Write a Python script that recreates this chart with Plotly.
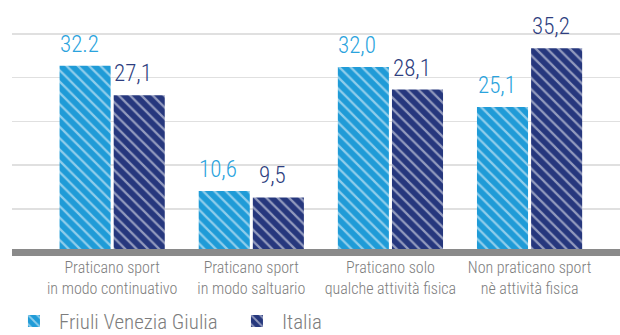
import plotly.graph_objects as go

categories = [
    "Praticano sport<br>in modo continuativo",
    "Praticano sport<br>in modo saltuario",
    "Praticano solo<br>qualche attività fisica",
    "Non praticano sport<br>nè attività fisica",
]
fvg_values = [32.2, 10.6, 32.0, 25.1]
fvg_labels = ["32.2", "10,6", "32,0", "25,1"]
ita_values = [27.1, 9.5, 28.1, 35.2]
ita_labels = ["27,1", "9,5", "28,1", "35,2"]
series_names = ["Friuli Venezia Giulia", "Italia"]

LIGHT = "#1f9bd7"
DARK = "#26377d"
LIGHT_TXT = "#2aa3dd"
DARK_TXT = "#2e3e80"
GRAY_TXT = "#7d7d7d"
FONT = "Roboto Condensed, Roboto, sans-serif"
WT = 300

W = 0.367
OFF_A = -0.378
OFF_B = 0.011

fig = go.Figure()
for name, vals, col, off in [
    (series_names[0], fvg_values, LIGHT, OFF_A),
    (series_names[1], ita_values, DARK, OFF_B),
]:
    fig.add_trace(go.Bar(
        name=name,
        x=list(range(len(categories))),
        y=vals,
        width=W,
        offset=off,
        marker=dict(
            color=col,
            line=dict(width=0),
            pattern=dict(shape="\\", bgcolor=col, fgcolor="white",
                         size=8, solidity=0.28, fillmode="overlay"),
        ),
        hoverinfo="skip",
    ))

annotations = []
for vals, labels, off, col in [
    (fvg_values, fvg_labels, OFF_A, LIGHT_TXT),
    (ita_values, ita_labels, OFF_B, DARK_TXT),
]:
    for i, (v, t) in enumerate(zip(vals, labels)):
        annotations.append(dict(x=i + off + W / 2, y=v, text=t, showarrow=False,
                                xref="x", yref="y", yanchor="bottom",
                                yshift=6, xshift=-6,
                                font=dict(family=FONT, size=23, weight=WT, color=col)))

fig.update_layout(
    width=620, height=335,
    margin=dict(l=12, r=0, t=0, b=79, autoexpand=False),
    paper_bgcolor="white", plot_bgcolor="white",
    barmode="overlay",
    showlegend=True,
    legend=dict(orientation="h", x=-0.005, xanchor="left", y=-0.175, yanchor="top",
                font=dict(family=FONT, size=21, weight=WT, color=GRAY_TXT),
                itemwidth=40, entrywidth=168, entrywidthmode="pixels",
                traceorder="normal"),
    annotations=annotations,
    shapes=[dict(type="line", xref="paper", x0=0, x1=1, yref="y", y0=0, y1=0,
                 line=dict(color="#8a8a8a", width=7), layer="above")],
)
fig.update_xaxes(
    range=[-0.72, 3.65],
    tickmode="array", tickvals=list(range(len(categories))), ticktext=categories,
    showgrid=False, zeroline=False, showline=False, ticks="",
    tickfont=dict(family=FONT, size=16, weight=WT, color=GRAY_TXT),
)
fig.update_yaxes(
    range=[-0.603, 43.534],
    tick0=0, dtick=7.543,
    showgrid=True, gridcolor="#e0e0e0", gridwidth=1.5,
    zeroline=False, showline=False, showticklabels=False, ticks="",
)

fig.write_html("out.html",
               config={"displayModeBar": False, "staticPlot": True},
               post_script="document.body.style.margin='0';document.body.style.padding='0';")
